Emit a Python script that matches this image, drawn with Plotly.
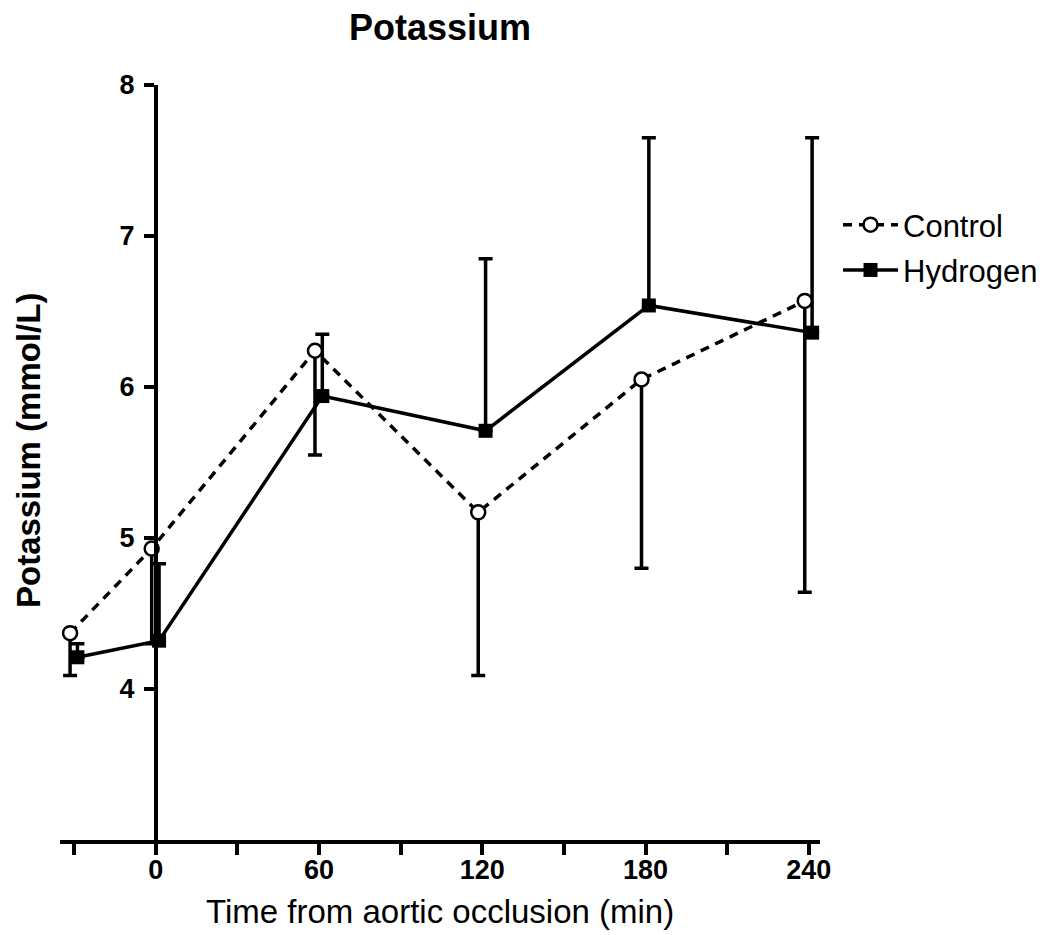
import plotly.graph_objects as go

# ---- data ----
times = [-30, 0, 60, 120, 180, 240]
control_mean = [4.37, 4.93, 6.24, 5.17, 6.05, 6.57]
control_err_low = [0.28, 0.63, 0.69, 1.08, 1.25, 1.93]
hydrogen_mean = [4.21, 4.32, 5.94, 5.71, 6.54, 6.36]
hydrogen_err_high = [0.09, 0.51, 0.41, 1.14, 1.11, 1.29]
zeros = [0, 0, 0, 0, 0, 0]

x_tick_vals = [-30, 0, 30, 60, 90, 120, 150, 180, 210, 240]
x_tick_text = ["", "0", "", "60", "", "120", "", "180", "", "240"]
y_tick_vals = [4, 5, 6, 7, 8]
y_tick_text = ["4", "5", "6", "7", "8"]

# ---- styling / layout constants ----
CONTROL_NUDGE = -1.5
HYDROGEN_NUDGE = 1.2
X_RANGE = [-35.2, 244.1]
Y_RANGE = [3, 8]
FONT = "Arial, Liberation Sans, sans-serif"
BLACK = "#000000"
PAGE_OFFSET = 8          # default body margin of the html page
FIG_W, FIG_H = 1048 - PAGE_OFFSET, 935 - PAGE_OFFSET
PLOT_L, PLOT_R, PLOT_T, PLOT_B = 60, 820, 85, 840   # page pixels of the plot box
ML = PLOT_L - PAGE_OFFSET
MT = PLOT_T - PAGE_OFFSET
MR = FIG_W - (PLOT_R - PAGE_OFFSET)
MB = FIG_H - (PLOT_B - PAGE_OFFSET)
PW = PLOT_R - PLOT_L
PH = PLOT_B - PLOT_T


def px_to_paper_x(px):
    return (px - PLOT_L) / PW


def px_to_paper_y(py):
    return (PLOT_B - py) / PH


ctrl_x = [t + CONTROL_NUDGE for t in times]
hyd_x = [t + HYDROGEN_NUDGE for t in times]

fig = go.Figure()

fig.add_trace(go.Scatter(
    x=hyd_x, y=hydrogen_mean, name="Hydrogen", mode="lines+markers",
    legendgroup="h", legendrank=2,
    line=dict(color=BLACK, width=3.5),
    marker=dict(symbol="square", size=14, color=BLACK),
    error_y=dict(type="data", symmetric=False, array=hydrogen_err_high,
                 arrayminus=zeros, color=BLACK, thickness=3.5, width=7),
))

fig.add_trace(go.Scatter(
    x=ctrl_x, y=control_mean, name="Control", mode="lines+markers",
    legendgroup="c", legendrank=1,
    line=dict(color=BLACK, width=3.5, dash="9px,7px"),
    marker=dict(symbol="circle", size=14, color="white",
                line=dict(color=BLACK, width=2.5)),
    error_y=dict(type="data", symmetric=False, array=zeros,
                 arrayminus=control_err_low, color=BLACK, thickness=3.5, width=7),
))

y_pos = (0 - X_RANGE[0]) / (X_RANGE[1] - X_RANGE[0])

fig.update_layout(
    width=FIG_W, height=FIG_H,
    margin=dict(l=ML, r=MR, t=MT, b=MB, autoexpand=False),
    paper_bgcolor="white", plot_bgcolor="white",
    font=dict(family=FONT, color=BLACK),
    title=dict(text="<b>Potassium</b>", x=0.5, xref="paper",
               y=1 - (27 - PAGE_OFFSET) / FIG_H,
               yanchor="middle", xanchor="center",
               font=dict(size=36, family=FONT, color=BLACK)),
    showlegend=True,
    legend=dict(x=px_to_paper_x(838), y=px_to_paper_y(198),
                xanchor="left", yanchor="top",
                font=dict(size=31, family=FONT, color=BLACK),
                tracegroupgap=2, traceorder="grouped", itemwidth=55,
                bgcolor="rgba(0,0,0,0)"),
    xaxis=dict(range=X_RANGE, showgrid=False, zeroline=False,
               showline=True, linecolor=BLACK, linewidth=3.5,
               ticks="outside", ticklen=11, tickwidth=3.5, tickcolor=BLACK,
               tickmode="array", tickvals=x_tick_vals, ticktext=x_tick_text,
               tickfont=dict(size=27, family=FONT, color=BLACK, weight="bold"),
               ticklabelstandoff=-8,
               anchor="y"),
    yaxis=dict(range=Y_RANGE, showgrid=False, zeroline=False,
               showline=True, linecolor=BLACK, linewidth=3.5,
               ticks="outside", ticklen=10, tickwidth=3.5, tickcolor=BLACK,
               tickmode="array", tickvals=y_tick_vals, ticktext=y_tick_text,
               tickfont=dict(size=27, family=FONT, color=BLACK, weight="bold"),
               ticklabelstandoff=4,
               anchor="free", position=y_pos),
    annotations=[
        dict(text="<b>Potassium (mmol/L)</b>", textangle=-90,
             xref="paper", yref="paper", x=px_to_paper_x(28), y=px_to_paper_y(451),
             xanchor="center", yanchor="middle", showarrow=False,
             font=dict(size=33, family=FONT, color=BLACK)),
        dict(text="Time from aortic occlusion (min)",
             xref="paper", yref="paper", x=0.5, y=px_to_paper_y(912),
             xanchor="center", yanchor="middle", showarrow=False,
             font=dict(size=33, family=FONT, color=BLACK)),
    ],
)

fig.write_html("out.html")
